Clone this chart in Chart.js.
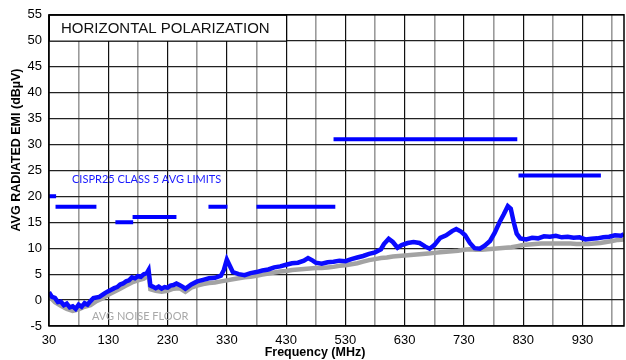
<!DOCTYPE html>
<html>
<head>
<meta charset="utf-8">
<script src="https://cdn.jsdelivr.net/npm/chart.js@4/dist/chart.umd.min.js"></script>
<style>
  html, body { margin: 0; padding: 0; background: #fff; }
  #wrap { width: 626px; height: 360px; }
</style>
</head>
<body>
<div id="wrap"><canvas id="emiChart"></canvas></div>
<script>
// ===================================
// Data
// ===================================
const emiFreq = [30, 35, 40, 45, 50, 55, 60, 65, 70, 75, 80, 85, 90, 95, 100, 105, 110, 115, 120, 125,
  130, 135, 140, 145, 150, 155, 160, 165, 170, 175, 180, 185, 190, 195, 198, 201, 205, 210, 215, 220,
  225, 230, 235, 240, 245, 250, 255, 260, 265, 270, 280, 290, 300, 310, 320, 325, 330, 335, 340, 350,
  360, 370, 380, 390, 400, 410, 420, 430, 440, 450, 460, 467, 475, 480, 490, 500, 510, 520, 530, 540,
  550, 560, 570, 580, 590, 595, 603, 610, 618, 625, 635, 645, 655, 665, 672, 680, 690, 700, 710, 717,
  725, 732, 740, 748, 757, 765, 774, 782, 790, 797, 804, 809, 814, 819, 825, 835, 845, 855, 865, 875,
  885, 895, 905, 915, 925, 935, 945, 955, 965, 975, 985, 995, 1000];
const emiAvg = [1.5, 0.6, 0.4, -0.4, -0.3, -1.0, -0.7, -1.4, -1.2, -1.7, -0.9, -1.3, -0.6, -0.9, -0.2, 0.4, 0.5, 0.6, 1.0, 1.4,
  1.7, 2.0, 2.3, 2.5, 3.0, 3.2, 3.6, 3.8, 4.4, 4.2, 4.6, 4.5, 5.0, 5.2, 5.8, 2.8, 2.6, 2.3, 2.6, 2.2,
  2.5, 2.4, 2.8, 2.9, 3.2, 2.9, 2.6, 2.2, 2.6, 3.0, 3.6, 3.9, 4.2, 4.3, 4.7, 5.8, 7.8, 6.6, 5.4, 5.0,
  4.8, 5.2, 5.4, 5.7, 5.9, 6.3, 6.5, 6.8, 7.1, 7.2, 7.6, 8.1, 7.6, 7.2, 7.0, 7.3, 7.4, 7.6, 7.5, 7.9,
  8.2, 8.5, 8.9, 9.2, 9.8, 10.8, 11.8, 11.2, 10.1, 10.6, 11.0, 11.2, 11.0, 10.3, 9.9, 10.6, 12.0, 12.5, 13.3, 13.7,
  13.2, 12.5, 11.0, 10.0, 9.9, 10.5, 11.4, 13.0, 15.0, 16.5, 18.1, 17.6, 15.0, 12.8, 11.9, 11.7, 12.0, 11.9, 12.3, 12.2,
  12.4, 12.1, 12.2, 12.0, 12.1, 11.7, 11.8, 11.9, 12.1, 12.2, 12.5, 12.4, 12.7];

const floorFreq = [30, 40, 50, 60, 70, 80, 90, 100, 110, 120, 130, 140, 150, 160, 170, 180, 190, 198, 201, 210,
  220, 230, 240, 250, 260, 270, 280, 290, 300, 310, 320, 330, 340, 350, 360, 370, 380, 390, 400, 410,
  420, 430, 440, 450, 460, 470, 480, 490, 500, 510, 520, 530, 540, 550, 560, 570, 580, 590, 600, 610,
  620, 630, 640, 650, 660, 670, 680, 690, 700, 710, 720, 730, 740, 750, 760, 770, 780, 790, 800, 810,
  820, 830, 840, 850, 860, 870, 880, 890, 900, 910, 920, 930, 940, 950, 960, 970, 980, 990, 1000];
const noiseFloor = [0.8, -0.4, -1.1, -1.7, -2.1, -1.8, -1.3, -1.0, -0.2, 0.3, 1.0, 1.6, 2.2, 2.8, 3.4, 3.8, 4.1, 4.8, 2.1, 1.8,
  1.6, 1.8, 2.2, 2.3, 1.6, 2.4, 2.8, 3.1, 3.3, 3.4, 3.6, 3.8, 4.0, 4.2, 4.4, 4.5, 4.7, 4.9, 5.1, 5.3,
  5.5, 5.6, 5.8, 5.9, 6.0, 6.1, 6.2, 6.2, 6.3, 6.4, 6.6, 6.7, 6.9, 7.1, 7.4, 7.7, 7.9, 8.1, 8.2, 8.4,
  8.5, 8.6, 8.7, 8.8, 8.9, 9.0, 9.1, 9.2, 9.3, 9.4, 9.5, 9.7, 9.8, 9.7, 9.7, 9.8, 9.9, 10.0, 10.1, 10.2,
  10.4, 10.6, 10.7, 10.8, 10.9, 10.9, 10.9, 10.9, 10.9, 10.9, 10.8, 10.8, 10.8, 10.9, 11.0, 11.2, 11.4, 11.6, 11.7];

// CISPR25 class 5 average limit segments
const limitStart = [30, 41, 142, 171, 299, 380, 510, 822];
const limitEnd = [42, 110, 172, 245, 331, 513, 820, 961];
const limitLevel = [20, 18, 15, 16, 18, 18, 31, 24];

// Axes
const xGridValues = [30, 80, 130, 180, 230, 280, 330, 380, 430, 480, 530, 580, 630, 680, 730, 780, 830, 880, 930, 980];
const xLabelValues = [30, 130, 230, 330, 430, 530, 630, 730, 830, 930];
const yMin = -5;
const yMax = 55;

// ===================================
// Build datasets
// ===================================
const emiPoints = emiFreq.map((f, i) => ({ x: f, y: emiAvg[i] }));
const floorPoints = floorFreq.map((f, i) => ({ x: f, y: noiseFloor[i] }));
const limitPoints = [];
limitStart.forEach((s, i) => {
  limitPoints.push({ x: s, y: limitLevel[i] });
  limitPoints.push({ x: limitEnd[i], y: limitLevel[i] });
  limitPoints.push({ x: limitEnd[i], y: null });
});

// ===================================
// Overlay plugin: title box, labels, frame, axis titles
// ===================================
const overlayPlugin = {
  id: "overlay",
  beforeDatasetsDraw(chart) {
    const { ctx, scales } = chart;
    const x = scales.x, y = scales.y;
    const left = x.getPixelForValue(30);
    const right = x.getPixelForValue(430);
    const top = y.getPixelForValue(55);
    const bottom = y.getPixelForValue(50);
    ctx.save();
    ctx.fillStyle = "#fff";
    ctx.fillRect(left, top, right - left, bottom - top);
    ctx.strokeStyle = "#000";
    ctx.lineWidth = 1;
    ctx.strokeRect(left + 0.5, top + 0.5, right - left, bottom - top);
    ctx.fillStyle = "#111";
    ctx.font = "15px 'Liberation Sans', Arial, sans-serif";
    ctx.textBaseline = "middle";
    ctx.fillText("HORIZONTAL POLARIZATION", 61, (top + bottom) / 2 + 1);
    ctx.restore();
  },
  afterDraw(chart) {
    const { ctx, chartArea } = chart;
    ctx.save();
    // frame
    ctx.strokeStyle = "#000";
    ctx.lineWidth = 1.5;
    ctx.strokeRect(chartArea.left, chartArea.top, chartArea.right - chartArea.left, chartArea.bottom - chartArea.top);

    // annotations
    ctx.font = "11px Lato, 'Open Sans', sans-serif";
    ctx.textBaseline = "middle";
    ctx.fillStyle = "#1a1aff";
    ctx.fillText("CISPR25 CLASS 5 AVG LIMITS", 72, 179);
    ctx.fillStyle = "#a8a8a8";
    ctx.fillText("AVG NOISE FLOOR", 92, 316);

    // axis titles
    ctx.fillStyle = "#000";
    ctx.font = "bold 12.5px 'Liberation Sans', Arial, sans-serif";
    ctx.textAlign = "center";
    ctx.fillText("Frequency (MHz)", 315, 353);
    ctx.translate(17, 150);
    ctx.rotate(-Math.PI / 2);
    ctx.fillText("AVG RADIATED EMI (dB\u00B5V)", 0, 0);
    ctx.restore();
  },
};

// ===================================
// Chart
// ===================================
const tickFont = { family: "'Liberation Sans', Arial, sans-serif", size: 13 };

new Chart(document.getElementById("emiChart"), {
  type: "line",
  data: {
    datasets: [
      {
        label: "Limits",
        data: limitPoints,
        borderColor: "#0000ff",
        borderWidth: 4,
        pointRadius: 0,
        spanGaps: false,
        tension: 0,
        order: 0,
      },
      {
        label: "Avg EMI",
        data: emiPoints,
        borderColor: "#0a0aff",
        borderWidth: 4.5,
        pointRadius: 0,
        tension: 0,
        order: 1,
      },
      {
        label: "Avg noise floor",
        data: floorPoints,
        borderColor: "#a3a3a3",
        borderWidth: 4.5,
        pointRadius: 0,
        tension: 0,
        order: 2,
      },
    ],
  },
  options: {
    responsive: true,
    maintainAspectRatio: false,
    animation: false,
    layout: { padding: { top: 12, right: 2, left: 0, bottom: 0 } },
    plugins: {
      legend: { display: false },
      tooltip: { enabled: false },
    },
    scales: {
      x: {
        type: "linear",
        min: 30,
        max: 1000,
        afterBuildTicks: (scale) => {
          scale.ticks = xGridValues.map((v) => ({ value: v }));
        },
        afterFit: (scale) => {
          scale.height = 34;
        },
        ticks: {
          autoSkip: false,
          maxRotation: 0,
          padding: 7,
          color: "#000",
          font: tickFont,
          callback: (v) => (xLabelValues.includes(v) ? String(v) : ""),
        },
        grid: {
          drawTicks: false,
          lineWidth: (c) => (c.tick && xLabelValues.includes(c.tick.value) ? 1.2 : 1.6),
          color: (c) => (c.tick && xLabelValues.includes(c.tick.value) ? "#111" : "#9a9a9a"),
        },
        border: { display: false },
      },
      y: {
        min: yMin,
        max: yMax,
        afterFit: (scale) => {
          scale.width = 49;
        },
        ticks: {
          stepSize: 5,
          padding: 7,
          color: "#000",
          font: tickFont,
        },
        grid: {
          drawTicks: false,
          color: "#222",
          lineWidth: 1.2,
        },
        border: { display: false },
      },
    },
  },
  plugins: [overlayPlugin],
});
</script>
</body>
</html>
